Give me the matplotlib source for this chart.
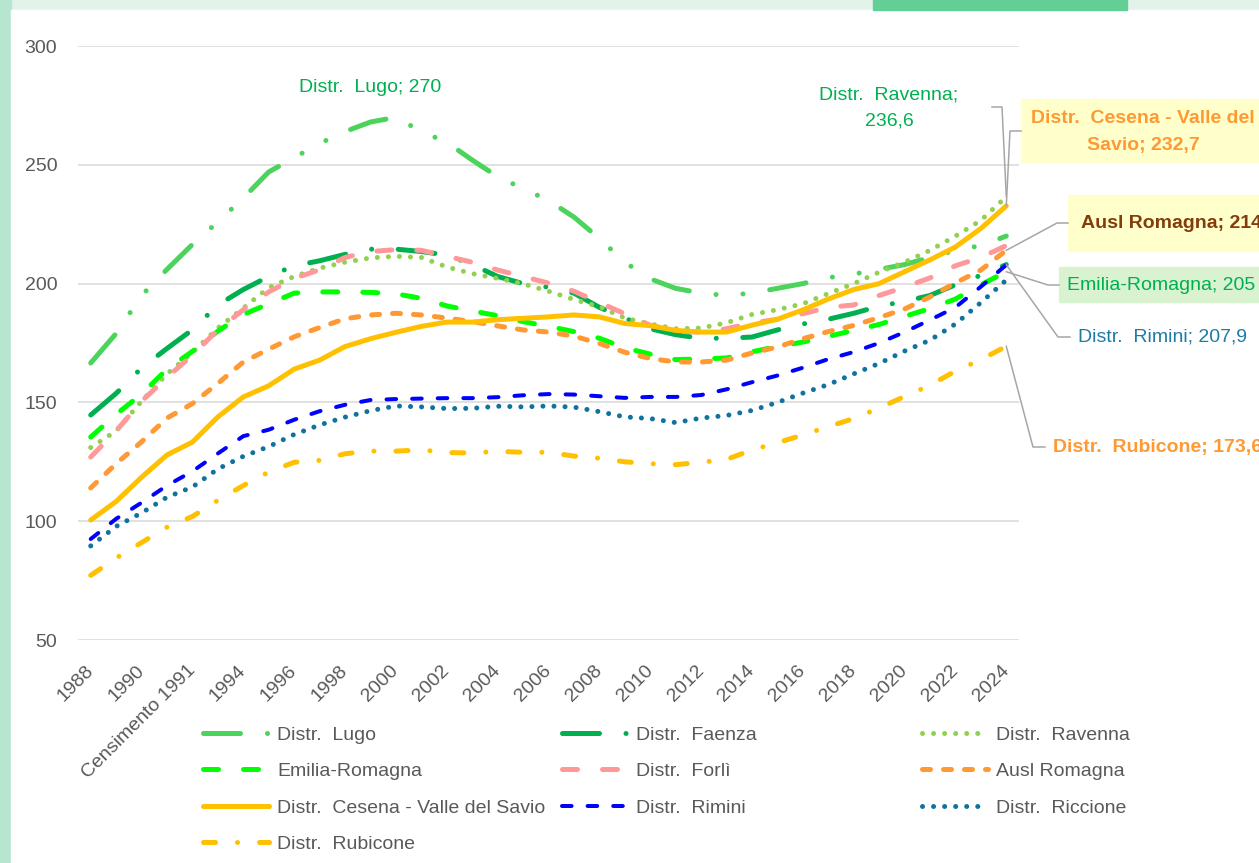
import matplotlib
matplotlib.use("Agg")
import matplotlib.pyplot as plt
from matplotlib import font_manager
from matplotlib.lines import Line2D
from matplotlib.patches import Rectangle
from matplotlib.transforms import IdentityTransform

# categories (one point per year, label every second one)
years = ["1988", "1989", "1990", "1991", "Censimento 1991", "1993", "1994", "1995",
         "1996", "1997", "1998", "1999", "2000", "2001", "2002", "2003", "2004",
         "2005", "2006", "2007", "2008", "2009", "2010", "2011", "2012", "2013",
         "2014", "2015", "2016", "2017", "2018", "2019", "2020", "2021", "2022",
         "2023", "2024"]

lugo = [166.6, 179, 195, 206, 216.5, 226, 236, 247, 253, 259, 264, 268, 270,
        264, 259.5, 252, 245, 240, 235, 228, 219, 209, 202, 198, 196, 195, 196,
        198, 200, 202.5, 204, 206, 208, 211, 214, 216, 220]
faenza = [144.7, 153.8, 164.5, 172.7, 180.6, 191, 197.5, 203, 207.5, 209.6,
          212.3, 214.5, 214.5, 213.5, 212, 208, 203, 200, 198.5, 196, 190,
          185.5, 181, 178.5, 177, 177, 177.5, 180.5, 183, 185, 187.5, 190.5,
          192.5, 195, 199.5, 203.5, 208]
ravenna = [131, 138, 150.5, 162, 171, 181.3, 189.7, 198.3, 203, 206.5, 209,
           210.8, 211.5, 211, 207, 204.2, 202.2, 199.9, 196.8, 193.3, 190.3,
           185.5, 183, 181, 181.3, 183.5, 187, 189, 191.5, 195.8, 200, 204.8,
           209, 214, 220, 226.6, 236.6]
emilia = [135.4, 145, 153.5, 164, 171.5, 180, 187, 191.5, 196, 196.5, 196.5,
          196.3, 195.7, 193.8, 190.6, 188.5, 186.5, 184, 182, 179.8, 177, 173,
          170.3, 168, 168.3, 168.7, 171.3, 173.5, 175.4, 177.8, 180.3, 182.8,
          186.2, 189.5, 193.5, 199.5, 205]
forli = [127, 138, 150.5, 160.5, 170, 180.5, 189, 196.5, 202.2, 205.8, 211,
         213.5, 214.3, 214, 211.5, 209, 205.7, 203, 200.2, 196.8, 192, 187.3,
         182.5, 180, 179.5, 181, 183.4, 185, 187.3, 190, 191, 195, 198.5,
         202.4, 207.5, 211, 216]
ausl = [114, 124.2, 133.4, 143.4, 149.5, 158, 167, 172.4, 177.6, 181.5, 185.2,
        186.8, 187.5, 186.8, 185.5, 184, 182.2, 180.5, 179.6, 177.9, 174.8,
        171.1, 168.5, 167, 167, 167.8, 170.8, 173.3, 176.8, 179.8, 182.4,
        185.7, 189.3, 194.4, 200.3, 205.7, 214]
cesena = [100.5, 108.3, 118.5, 127.9, 133.3, 143.9, 152.3, 157, 164, 167.8,
          173.5, 176.8, 179.5, 182, 183.8, 183.8, 184.8, 185.4, 186, 186.8, 186,
          183.2, 182.3, 180.3, 179.6, 179.6, 182.5, 185, 188.9, 193.5, 197.5,
          200, 205, 210, 215.4, 223.2, 232.7]
rimini = [92.5, 101, 107.8, 115, 121, 128.5, 135.8, 138.5, 142.7, 146.3, 149,
          151, 151.4, 151.6, 151.8, 151.8, 152.2, 153, 153.5, 153.3, 152.6,
          151.9, 152.3, 152.3, 153.1, 155.5, 158.5, 161.3, 164.6, 168.2, 171.2,
          175, 179.6, 184.7, 190, 198.7, 207.9]
riccione = [89.6, 97.8, 103.5, 110.1, 114.4, 122, 127.3, 131.4, 136.5, 140.5,
            143.8, 146.5, 148.5, 148.1, 147.4, 147.5, 148.4, 148.1, 148.5, 148,
            146.1, 143.9, 143.2, 141.5, 143.4, 144.5, 146.6, 150, 153.9, 157.5,
            162, 166.4, 171.6, 176.2, 183, 192, 201.5]
rubicone = [77.2, 84.5, 91, 97.5, 102, 108.8, 115, 120.7, 124.8, 125.6, 128.4,
            129.5, 129.5, 130, 128.9, 128.7, 129.4, 129, 129, 127.4, 126.5, 125,
            124.2, 123.8, 124.8, 126, 130, 133, 136.3, 139.8, 143.2, 147.6,
            152.5, 157.2, 163.2, 168, 173.6]

names = ["Distr.  Lugo", "Distr.  Faenza", "Distr.  Ravenna", "Emilia-Romagna",
         "Distr.  Forlì", "Ausl Romagna", "Distr.  Cesena - Valle del Savio",
         "Distr.  Rimini", "Distr.  Riccione", "Distr.  Rubicone"]
series = [lugo, faenza, ravenna, emilia, forli, ausl, cesena, rimini, riccione, rubicone]

# colour, line width (px), dash pattern in line-width units
styles = [
    ("#4CD35C", 5.0, (7.4, 5.4, 0.01, 5.4, 0.01, 5.4)),
    ("#00B050", 5.0, (7.4, 5.3, 0.01, 5.3)),
    ("#92D050", 5.0, (0.01, 2.2)),
    ("#00FF00", 5.0, (3.0, 5.0)),
    ("#FF9999", 5.0, (3.0, 5.0)),
    ("#FF9933", 5.0, (1.6, 2.6)),
    ("#FFC000", 5.0, None),
    ("#0000FF", 4.0, (2.4, 4.0)),
    ("#10739E", 5.0, (0.01, 2.2)),
    ("#FFC000", 5.0, (2.4, 4.4, 0.01, 4.4)),
]

avail = {f.name for f in font_manager.fontManager.ttflist}
main_font = "Liberation Sans Narrow" if "Liberation Sans Narrow" in avail else "Liberation Sans"
plt.rcParams["font.family"] = [main_font, "DejaVu Sans"]

W, H = 1259, 863
fig = plt.figure(figsize=(W / 100, H / 100), dpi=100, facecolor="#E2F4EA")

# slide background
fig.patches.append(Rectangle((0, 0), 11 / W, 1, transform=fig.transFigure,
                             color="#B6E6CF", zorder=-10))
fig.patches.append(Rectangle((11 / W, 0), 1, 1 - 10 / H, transform=fig.transFigure,
                             color="white", zorder=-10))
fig.patches.append(Rectangle((873 / W, 1 - 10 / H), 254 / W, 10 / H,
                             transform=fig.transFigure, color="#62CF96", zorder=-10))

ax = fig.add_axes([78 / W, 1 - 640 / H, 941 / W, 594 / H])
ax.set_facecolor("none")
for s in ax.spines.values():
    s.set_visible(False)

x = list(range(len(years)))
handles = []
for name, vals, (col, lwpx, pat) in zip(names, series, styles):
    ls = "-" if pat is None else (0, pat)
    ln, = ax.plot(x, vals, color=col, lw=lwpx * 0.72, linestyle=ls,
                  dash_capstyle="round", solid_capstyle="round",
                  solid_joinstyle="round", label=name, clip_on=False)
    handles.append(ln)

ax.set_xlim(-0.5, 36.5)
ax.set_ylim(50, 300)
ax.set_yticks([50, 100, 150, 200, 250, 300])
ax.yaxis.grid(True, color="#D9D9D9", lw=1.1)
ax.set_axisbelow(True)
ax.tick_params(axis="y", length=0, pad=15, labelsize=14, labelcolor="#595959")
ax.set_xticks(x[::2])
ax.set_xticklabels(years[::2], rotation=45, ha="right", rotation_mode="anchor",
                   va="center")
ax.tick_params(axis="x", length=0, pad=20, labelsize=14, labelcolor="#595959")

# legend in three columns, filled row by row
fs = 14
fpx = fs / 0.72
cols = [[0, 3, 6, 9], [1, 4, 7], [2, 5, 8]]
col_x = [203, 562, 922]
for cx, idx in zip(col_x, cols):
    leg = fig.legend([handles[i] for i in idx], [names[i] for i in idx],
                     loc="upper left", bbox_to_anchor=(cx / W, 1 - 726 / H),
                     bbox_transform=fig.transFigure, frameon=False,
                     fontsize=fs, handlelength=66 / fpx, handletextpad=8 / fpx,
                     labelspacing=0.97, borderpad=0, borderaxespad=0)
    for t in leg.get_texts():
        t.set_color("#595959")


def px(xp, yp):
    return (xp / W, 1 - yp / H)


def leader(elbows, idx):
    dx, dy = ax.transData.transform((36, series[idx][-1]))
    xs = [e[0] for e in elbows] + [dx]
    ys = [H - e[1] for e in elbows] + [dy]
    ln = Line2D(xs, ys, color="#A6A6A6", lw=1.1, transform=IdentityTransform())
    fig.add_artist(ln)


# data labels
fig.text(*px(370, 87), "Distr.  Lugo; 270", color="#00B050", fontsize=14,
         ha="center", va="center")
fig.text(*px(889, 108), "Distr.  Ravenna;\n236,6", color="#00B050", fontsize=14,
         ha="center", va="center", linespacing=1.75)
leader([(992, 107), (1002, 107)], 2)

fig.patches.append(Rectangle(px(1021, 162), 250 / W, 63 / H, transform=fig.transFigure,
                             color="#FFFFCC", zorder=1))
fig.text(*px(1143, 132), "Distr.  Cesena - Valle del\nSavio; 232,7", color="#FF9933",
         fontsize=14, fontweight="bold", ha="center", va="center", linespacing=1.75)
leader([(1021, 131), (1010, 131)], 6)

fig.patches.append(Rectangle(px(1068, 251), 200 / W, 56 / H, transform=fig.transFigure,
                             color="#FFFFCC", zorder=1))
fig.text(*px(1081, 223), "Ausl Romagna; 214", color="#843C0C", fontsize=14,
         fontweight="bold", ha="left", va="center")
leader([(1068, 223), (1057, 223)], 5)

fig.patches.append(Rectangle(px(1059, 302), 210 / W, 35 / H, transform=fig.transFigure,
                             color="#D9F2D0", zorder=1))
fig.text(*px(1067, 285), "Emilia-Romagna; 205", color="#00B050", fontsize=14,
         ha="left", va="center")
leader([(1059, 285), (1048, 285)], 3)

fig.text(*px(1078, 337), "Distr.  Rimini; 207,9", color="#1E7BA6", fontsize=14,
         ha="left", va="center")
leader([(1070, 337), (1058, 337)], 7)

fig.text(*px(1053, 447), "Distr.  Rubicone; 173,6", color="#FF9933", fontsize=14,
         fontweight="bold", ha="left", va="center")
leader([(1045, 447), (1033, 447)], 9)

fig.savefig("out.png", dpi=100, facecolor=fig.get_facecolor())
